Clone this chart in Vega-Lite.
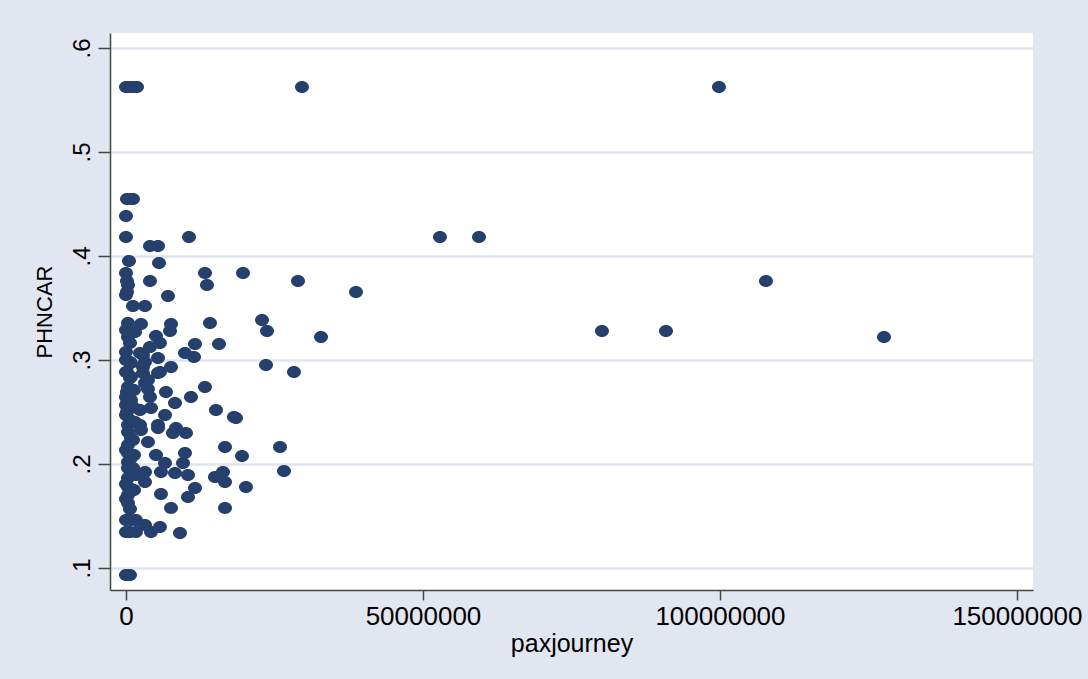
{
  "$schema": "https://vega.github.io/schema/vega-lite/v6.json",
  "autosize": {"type": "none"},
  "width": 923,
  "height": 557,
  "padding": {"left": 110, "top": 33, "right": 55, "bottom": 89},
  "background": "#e2e6f0",
  "config": {
    "view": {"fill": "white", "stroke": null},
    "font": "Liberation Sans",
    "axis": {
      "labelFont": "Liberation Sans",
      "titleFont": "Liberation Sans",
      "labelColor": "black",
      "titleColor": "black",
      "titleFontWeight": "normal",
      "domainColor": "#444444",
      "domainWidth": 1.5,
      "tickColor": "#444444",
      "tickWidth": 1.5
    }
  },
  "data": {
    "values": [
      {"paxjourney": 0, "PHNCAR": 0.5625},
      {"paxjourney": 673000, "PHNCAR": 0.5625},
      {"paxjourney": 1350000, "PHNCAR": 0.5625},
      {"paxjourney": 1850000, "PHNCAR": 0.5625},
      {"paxjourney": 29630000, "PHNCAR": 0.5625},
      {"paxjourney": 99830000, "PHNCAR": 0.5625},
      {"paxjourney": 168000, "PHNCAR": 0.4548},
      {"paxjourney": 842000, "PHNCAR": 0.4548},
      {"paxjourney": 1180000, "PHNCAR": 0.4548},
      {"paxjourney": 0, "PHNCAR": 0.4385},
      {"paxjourney": 0, "PHNCAR": 0.4183},
      {"paxjourney": 10610000, "PHNCAR": 0.4183},
      {"paxjourney": 52860000, "PHNCAR": 0.4183},
      {"paxjourney": 59430000, "PHNCAR": 0.4183},
      {"paxjourney": 4040000, "PHNCAR": 0.4096},
      {"paxjourney": 5390000, "PHNCAR": 0.4096},
      {"paxjourney": 505000, "PHNCAR": 0.3952},
      {"paxjourney": 5560000, "PHNCAR": 0.3933},
      {"paxjourney": 0, "PHNCAR": 0.3837},
      {"paxjourney": 13300000, "PHNCAR": 0.3837},
      {"paxjourney": 19700000, "PHNCAR": 0.3837},
      {"paxjourney": 168000, "PHNCAR": 0.376},
      {"paxjourney": 4040000, "PHNCAR": 0.376},
      {"paxjourney": 28960000, "PHNCAR": 0.376},
      {"paxjourney": 107740000, "PHNCAR": 0.376},
      {"paxjourney": 13640000, "PHNCAR": 0.3721},
      {"paxjourney": 337000, "PHNCAR": 0.3721},
      {"paxjourney": 168000, "PHNCAR": 0.3654},
      {"paxjourney": 38720000, "PHNCAR": 0.3654},
      {"paxjourney": 7070000, "PHNCAR": 0.3615},
      {"paxjourney": 0, "PHNCAR": 0.3625},
      {"paxjourney": 1180000, "PHNCAR": 0.3519},
      {"paxjourney": 3200000, "PHNCAR": 0.3519},
      {"paxjourney": 22900000, "PHNCAR": 0.3385},
      {"paxjourney": 337000, "PHNCAR": 0.3356},
      {"paxjourney": 2530000, "PHNCAR": 0.3346},
      {"paxjourney": 7580000, "PHNCAR": 0.3346},
      {"paxjourney": 14140000, "PHNCAR": 0.3356},
      {"paxjourney": 0, "PHNCAR": 0.3288},
      {"paxjourney": 1520000, "PHNCAR": 0.3269},
      {"paxjourney": 7410000, "PHNCAR": 0.3279},
      {"paxjourney": 23740000, "PHNCAR": 0.3279},
      {"paxjourney": 80130000, "PHNCAR": 0.3279},
      {"paxjourney": 90910000, "PHNCAR": 0.3279},
      {"paxjourney": 5050000, "PHNCAR": 0.3231},
      {"paxjourney": 337000, "PHNCAR": 0.3221},
      {"paxjourney": 32830000, "PHNCAR": 0.3221},
      {"paxjourney": 127610000, "PHNCAR": 0.3221},
      {"paxjourney": 5720000, "PHNCAR": 0.3163},
      {"paxjourney": 11620000, "PHNCAR": 0.3154},
      {"paxjourney": 15660000, "PHNCAR": 0.3154},
      {"paxjourney": 4040000, "PHNCAR": 0.3125},
      {"paxjourney": 0, "PHNCAR": 0.3077},
      {"paxjourney": 2360000, "PHNCAR": 0.3067},
      {"paxjourney": 9930000, "PHNCAR": 0.3067},
      {"paxjourney": 11450000, "PHNCAR": 0.3029},
      {"paxjourney": 5390000, "PHNCAR": 0.3019},
      {"paxjourney": 0, "PHNCAR": 0.3},
      {"paxjourney": 2860000, "PHNCAR": 0.3048},
      {"paxjourney": 3200000, "PHNCAR": 0.2981},
      {"paxjourney": 23570000, "PHNCAR": 0.2952},
      {"paxjourney": 7580000, "PHNCAR": 0.2933},
      {"paxjourney": 2860000, "PHNCAR": 0.2933},
      {"paxjourney": 5720000, "PHNCAR": 0.2885},
      {"paxjourney": 0, "PHNCAR": 0.2885},
      {"paxjourney": 28280000, "PHNCAR": 0.2885},
      {"paxjourney": 2860000, "PHNCAR": 0.2875},
      {"paxjourney": 5390000, "PHNCAR": 0.2875},
      {"paxjourney": 3700000, "PHNCAR": 0.2808},
      {"paxjourney": 3200000, "PHNCAR": 0.2779},
      {"paxjourney": 337000, "PHNCAR": 0.274},
      {"paxjourney": 13300000, "PHNCAR": 0.274},
      {"paxjourney": 3700000, "PHNCAR": 0.2721},
      {"paxjourney": 6730000, "PHNCAR": 0.2692},
      {"paxjourney": 0, "PHNCAR": 0.2644},
      {"paxjourney": 10940000, "PHNCAR": 0.2644},
      {"paxjourney": 4040000, "PHNCAR": 0.2644},
      {"paxjourney": 8250000, "PHNCAR": 0.2587},
      {"paxjourney": 168000, "PHNCAR": 0.2587},
      {"paxjourney": 0, "PHNCAR": 0.2567},
      {"paxjourney": 2360000, "PHNCAR": 0.2519},
      {"paxjourney": 4210000, "PHNCAR": 0.2538},
      {"paxjourney": 15150000, "PHNCAR": 0.2519},
      {"paxjourney": 168000, "PHNCAR": 0.25},
      {"paxjourney": 6570000, "PHNCAR": 0.2471},
      {"paxjourney": 0, "PHNCAR": 0.2471},
      {"paxjourney": 18180000, "PHNCAR": 0.2452},
      {"paxjourney": 18520000, "PHNCAR": 0.2442},
      {"paxjourney": 337000, "PHNCAR": 0.2375},
      {"paxjourney": 2360000, "PHNCAR": 0.2375},
      {"paxjourney": 5390000, "PHNCAR": 0.2375},
      {"paxjourney": 8420000, "PHNCAR": 0.2346},
      {"paxjourney": 337000, "PHNCAR": 0.2308},
      {"paxjourney": 2530000, "PHNCAR": 0.2327},
      {"paxjourney": 5390000, "PHNCAR": 0.2346},
      {"paxjourney": 7910000, "PHNCAR": 0.2298},
      {"paxjourney": 10100000, "PHNCAR": 0.2298},
      {"paxjourney": 3700000, "PHNCAR": 0.2212},
      {"paxjourney": 337000, "PHNCAR": 0.2183},
      {"paxjourney": 16670000, "PHNCAR": 0.2163},
      {"paxjourney": 25930000, "PHNCAR": 0.2163},
      {"paxjourney": 337000, "PHNCAR": 0.2106},
      {"paxjourney": 5050000, "PHNCAR": 0.2087},
      {"paxjourney": 9930000, "PHNCAR": 0.2106},
      {"paxjourney": 19530000, "PHNCAR": 0.2077},
      {"paxjourney": 337000, "PHNCAR": 0.2019},
      {"paxjourney": 6570000, "PHNCAR": 0.201},
      {"paxjourney": 9600000, "PHNCAR": 0.201},
      {"paxjourney": 337000, "PHNCAR": 0.1962},
      {"paxjourney": 3200000, "PHNCAR": 0.1923},
      {"paxjourney": 5890000, "PHNCAR": 0.1923},
      {"paxjourney": 8250000, "PHNCAR": 0.1913},
      {"paxjourney": 10440000, "PHNCAR": 0.1894},
      {"paxjourney": 14980000, "PHNCAR": 0.1875},
      {"paxjourney": 16330000, "PHNCAR": 0.1923},
      {"paxjourney": 26600000, "PHNCAR": 0.1933},
      {"paxjourney": 337000, "PHNCAR": 0.1865},
      {"paxjourney": 3200000, "PHNCAR": 0.1827},
      {"paxjourney": 16670000, "PHNCAR": 0.1827},
      {"paxjourney": 337000, "PHNCAR": 0.1779},
      {"paxjourney": 11620000, "PHNCAR": 0.1769},
      {"paxjourney": 20200000, "PHNCAR": 0.1779},
      {"paxjourney": 5890000, "PHNCAR": 0.1712},
      {"paxjourney": 10440000, "PHNCAR": 0.1683},
      {"paxjourney": 337000, "PHNCAR": 0.1702},
      {"paxjourney": 337000, "PHNCAR": 0.1625},
      {"paxjourney": 7580000, "PHNCAR": 0.1577},
      {"paxjourney": 16670000, "PHNCAR": 0.1577},
      {"paxjourney": 0, "PHNCAR": 0.1462},
      {"paxjourney": 1680000, "PHNCAR": 0.1462},
      {"paxjourney": 3200000, "PHNCAR": 0.1413},
      {"paxjourney": 5720000, "PHNCAR": 0.1394},
      {"paxjourney": 0, "PHNCAR": 0.1346},
      {"paxjourney": 1680000, "PHNCAR": 0.1346},
      {"paxjourney": 4210000, "PHNCAR": 0.1346},
      {"paxjourney": 9090000, "PHNCAR": 0.1337},
      {"paxjourney": 0, "PHNCAR": 0.0933},
      {"paxjourney": 673000, "PHNCAR": 0.0933},
      {"paxjourney": 673000, "PHNCAR": 0.2981},
      {"paxjourney": 842000, "PHNCAR": 0.2837},
      {"paxjourney": 168000, "PHNCAR": 0.2885},
      {"paxjourney": 673000, "PHNCAR": 0.3163},
      {"paxjourney": 842000, "PHNCAR": 0.2971},
      {"paxjourney": 673000, "PHNCAR": 0.2827},
      {"paxjourney": 168000, "PHNCAR": 0.2692},
      {"paxjourney": 842000, "PHNCAR": 0.2615},
      {"paxjourney": 673000, "PHNCAR": 0.2423},
      {"paxjourney": 842000, "PHNCAR": 0.225},
      {"paxjourney": 0, "PHNCAR": 0.2135},
      {"paxjourney": 842000, "PHNCAR": 0.2058},
      {"paxjourney": 0, "PHNCAR": 0.1808},
      {"paxjourney": 842000, "PHNCAR": 0.176},
      {"paxjourney": 0, "PHNCAR": 0.1663},
      {"paxjourney": 673000, "PHNCAR": 0.1567},
      {"paxjourney": 842000, "PHNCAR": 0.1462},
      {"paxjourney": 673000, "PHNCAR": 0.1346},
      {"paxjourney": 1180000, "PHNCAR": 0.2231},
      {"paxjourney": 1350000, "PHNCAR": 0.2087},
      {"paxjourney": 1680000, "PHNCAR": 0.1894},
      {"paxjourney": 1350000, "PHNCAR": 0.175},
      {"paxjourney": 1180000, "PHNCAR": 0.1962},
      {"paxjourney": 1520000, "PHNCAR": 0.2404},
      {"paxjourney": 1180000, "PHNCAR": 0.2548},
      {"paxjourney": 1350000, "PHNCAR": 0.2712}
    ]
  },
  "mark": {
    "type": "point",
    "filled": true,
    "shape": "M-1,0A1,0.86,0,1,0,1,0A1,0.86,0,1,0,-1,0Z",
    "size": 196,
    "color": "#26406e",
    "opacity": 1
  },
  "encoding": {
    "x": {
      "field": "paxjourney",
      "type": "quantitative",
      "scale": {"domain": [-2690000, 152700000], "nice": false, "zero": false},
      "axis": {
        "values": [0, 50000000, 100000000, 150000000],
        "format": "d",
        "grid": false,
        "tickSize": 10,
        "labelFontSize": 26,
        "labelPadding": 3,
        "labelFlush": false,
        "labelOverlap": false,
        "title": "paxjourney",
        "titleFontSize": 25,
        "titlePadding": 2
      }
    },
    "y": {
      "field": "PHNCAR",
      "type": "quantitative",
      "scale": {"domain": [0.0788, 0.6144], "nice": false, "zero": false},
      "axis": {
        "values": [0.1, 0.2, 0.3, 0.4, 0.5, 0.6],
        "labelExpr": "replace(format(datum.value, '.1f'), '0.', '.')",
        "grid": true,
        "gridColor": "#dfe4ef",
        "gridWidth": 2.5,
        "tickSize": 12,
        "labelAngle": 270,
        "labelAlign": "center",
        "labelBaseline": "bottom",
        "labelFontSize": 24,
        "labelPadding": 4,
        "labelFlush": false,
        "labelOverlap": false,
        "title": "PHNCAR",
        "titleFontSize": 22,
        "titlePadding": 14
      }
    }
  }
}
